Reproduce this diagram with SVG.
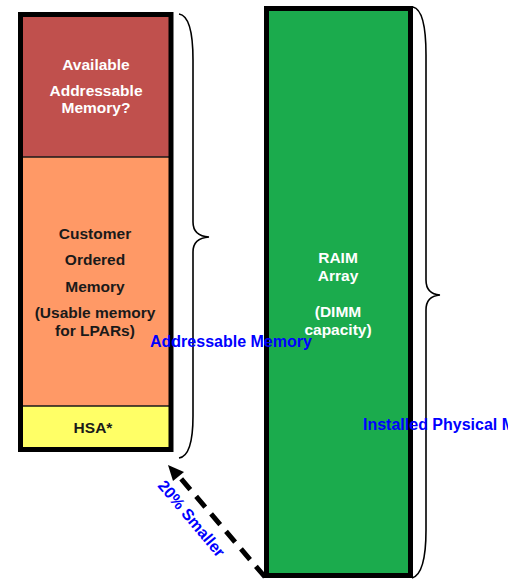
<svg xmlns="http://www.w3.org/2000/svg" width="508" height="580" viewBox="0 0 508 580">
  <style>
    .lbl { font-family: "Liberation Sans", Arial, sans-serif; font-weight: bold; font-size: 15.5px; text-anchor: middle; }
    .white { fill: #ffffff; }
    .dark { fill: #1a1a1a; }
    .blue { font-family: "Liberation Sans", Arial, sans-serif; font-weight: bold; font-size: 16px; fill: #0000ff; }
    .brace { fill: none; stroke: #000000; stroke-width: 1.6; }
    .frame { fill: none; stroke: #000000; stroke-width: 5; }
  </style>
  <rect width="508" height="580" fill="#ffffff"/>

  <!-- addressable memory column -->
  <g id="addressable-column">
    <rect x="22" y="16" width="151" height="436" fill="#a0a0a0"/>
    <g id="available">
      <rect x="20.5" y="14.5" width="150" height="143" fill="#c0504d"/>
      <text class="lbl white" x="96" y="70">Available</text>
      <text class="lbl white" x="96" y="96">Addressable</text>
      <text class="lbl white" x="96" y="113">Memory?</text>
    </g>
    <g id="customer-ordered">
      <rect x="20.5" y="157" width="150" height="249" fill="#ff9966"/>
      <text class="lbl dark" x="95" y="239">Customer</text>
      <text class="lbl dark" x="95" y="265">Ordered</text>
      <text class="lbl dark" x="95" y="292">Memory</text>
      <text class="lbl dark" x="95" y="318">(Usable memory</text>
      <text class="lbl dark" x="95" y="336">for LPARs)</text>
    </g>
    <g id="hsa">
      <rect x="20.5" y="406" width="150" height="43.5" fill="#ffff66"/>
      <text class="lbl dark" x="93" y="433">HSA*</text>
    </g>
    <line x1="20" y1="157" x2="171" y2="157" stroke="#1a1a1a" stroke-width="1.5"/>
    <line x1="20" y1="406" x2="171" y2="406" stroke="#1a1a1a" stroke-width="1.5"/>
    <rect class="frame" x="20.5" y="14.5" width="150.5" height="435"/>
  </g>

  <!-- installed memory column -->
  <g id="raim-array">
    <rect x="266.5" y="8.5" width="144" height="567" fill="#1bab4d" stroke="#000000" stroke-width="5"/>
    <text class="lbl white" x="338" y="263">RAIM</text>
    <text class="lbl white" x="338" y="281">Array</text>
    <text class="lbl white" x="338" y="317">(DIMM</text>
    <text class="lbl white" x="338" y="335">capacity)</text>
  </g>

  <g id="connectors">
    <!-- braces -->
    <path class="brace" d="M179,14 Q193,16 193,60 L193,222 Q193,236 209,237 Q193,238 193,252 L193,416 Q193,456 179,458"/>
    <path class="brace" d="M413,7 Q426,10 426,55 L426,280 Q426,294 440,295 Q426,296 426,310 L426,530 Q426,574 412,578"/>
    <!-- size difference arrow -->
    <line x1="265" y1="577" x2="177" y2="474" stroke="#000000" stroke-width="5" stroke-dasharray="14,9"/>
    <path d="M168,465 L184,472 L173,481 Z" fill="#000000"/>
  </g>

  <g id="labels">
    <text class="blue" x="150" y="347">Addressable Memory</text>
    <text class="blue" x="363" y="430">Installed Physical Memory</text>
    <text class="blue" x="0" y="0" font-size="18" transform="translate(157,486) rotate(50)">20% Smaller</text>
  </g>
</svg>
